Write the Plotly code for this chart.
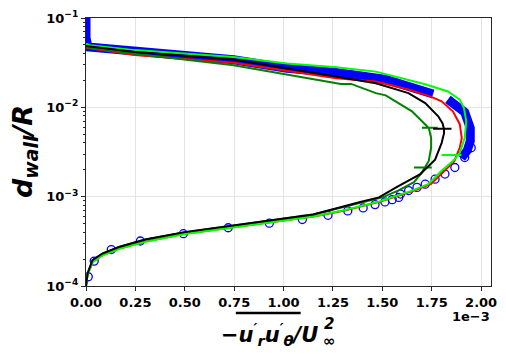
import plotly.graph_objects as go

# x values in units of 1e-3 ; y = d_wall / R
black_x = [0, 0.008, 0.033, 0.083, 0.167, 0.30, 0.50, 0.717, 0.967, 1.15, 1.383, 1.483, 1.57, 1.692, 1.767, 1.80, 1.812,
           1.812, 1.757, 1.85, 1.812, 1.805, 1.783, 1.717, 1.632, 1.467, 1.267, 1.017, 0.747, 0.247, 0.02, 0]
black_y = [1.0e-4, 1.38e-4, 1.95e-4, 2.31e-4, 2.73e-4, 3.31e-4, 4.01e-4, 4.67e-4, 5.51e-4, 6.31e-4, 8.65e-4, 9.82e-4,
           1.27e-3, 1.79e-3, 2.6e-3, 3.98e-3, 5.1e-3, 5.74e-3, 5.74e-3, 5.74e-3, 5.74e-3, 6.6e-3, 7.94e-3, 1.117e-2,
           1.442e-2, 1.862e-2, 2.21e-2, 2.74e-2, 3.44e-2, 4.16e-2, 4.72e-2, 4.86e-2]

red_x = [0, 0.008, 0.035, 0.085, 0.17, 0.30, 0.50, 0.72, 0.97, 1.16, 1.31, 1.49, 1.66, 1.745, 1.815, 1.865, 1.892,
         1.902, 1.892, 1.857, 1.80, 1.742, 1.632, 1.467, 1.267, 1.017, 0.747, 0.247, 0.02, 0]
red_y = [1.0e-4, 1.35e-4, 1.87e-4, 2.22e-4, 2.62e-4, 3.14e-4, 3.85e-4, 4.5e-4, 5.3e-4, 6.05e-4, 7.0e-4, 8.8e-4,
         1.17e-3, 1.38e-3, 1.95e-3, 2.51e-3, 3.53e-3, 4.53e-3, 6.48e-3, 9.03e-3, 1.166e-2, 1.325e-2, 1.585e-2,
         1.945e-2, 2.12e-2, 2.56e-2, 3.16e-2, 3.85e-2, 4.56e-2, 4.64e-2]

lime_x = [0, 0.008, 0.033, 0.083, 0.167, 0.30, 0.50, 0.817, 1.15, 1.30, 1.483, 1.65, 1.732, 1.80, 1.857,
          1.885, 1.80, 1.90, 1.885, 1.892, 1.917, 1.925, 1.913, 1.892, 1.832, 1.717, 1.467, 1.267, 1.017, 0.747,
          0.247, 0.02, 0]
lime_y = [1.0e-4, 1.35e-4, 1.85e-4, 2.21e-4, 2.61e-4, 3.12e-4, 3.83e-4, 4.76e-4, 6.0e-4, 6.99e-4, 8.8e-4, 1.17e-3,
          1.38e-3, 1.95e-3, 2.51e-3, 2.92e-3, 2.92e-3, 2.92e-3, 2.92e-3, 3.11e-3, 4.56e-3, 6.99e-3, 9.82e-3,
          1.219e-2, 1.506e-2, 1.815e-2, 2.51e-2, 2.81e-2, 3.10e-2, 3.66e-2, 4.37e-2, 4.97e-2, 5.14e-2]

dgreen_x = [0, 0.008, 0.033, 0.083, 0.167, 0.30, 0.50, 0.717, 0.967, 1.15, 1.40, 1.50, 1.58, 1.66, 1.70,
            1.715, 1.66, 1.75, 1.715, 1.735, 1.747, 1.747, 1.735, 1.70, 1.78, 1.735, 1.717, 1.65, 1.567, 1.517,
            1.467, 1.367, 1.342, 1.29, 1.017, 0.747, 0.247, 0.02, 0]
dgreen_y = [1.0e-4, 1.38e-4, 1.95e-4, 2.31e-4, 2.73e-4, 3.31e-4, 4.01e-4, 4.67e-4, 5.51e-4, 6.31e-4, 8.65e-4,
            9.82e-4, 1.17e-3, 1.45e-3, 1.86e-3, 2.12e-3, 2.12e-3, 2.12e-3, 2.12e-3, 2.51e-3, 3.53e-3, 4.56e-3,
            5.89e-3, 5.89e-3, 5.89e-3, 5.89e-3, 6.43e-3, 9.03e-3, 1.166e-2, 1.36e-2, 1.442e-2, 1.755e-2, 1.83e-2,
            1.83e-2, 2.31e-2, 2.95e-2, 3.98e-2, 4.6e-2, 4.7e-2]

# blue: sparse/dense open-circle markers (lower part)
blue_pts_x = [0.0115, 0.0415, 0.128, 0.275, 0.493, 0.72, 0.928, 1.095, 1.225, 1.325, 1.403, 1.463, 1.513, 1.55,
              1.583, 1.592, 1.633, 1.675, 1.717, 1.767, 1.817, 1.867, 1.917, 1.95]
blue_pts_y = [1.27e-4, 1.90e-4, 2.56e-4, 3.19e-4, 3.85e-4, 4.49e-4, 5.05e-4, 5.55e-4, 6.19e-4, 6.93e-4, 7.48e-4,
              8.15e-4, 8.73e-4, 9.26e-4, 9.8e-4, 1.07e-3, 1.17e-3, 1.27e-3, 1.38e-3, 1.57e-3, 1.79e-3, 2.12e-3,
              2.74e-3, 3.53e-3]
# blue: dense overlapping markers forming a thick band (upper part)
blue_band_x = [1.90, 1.93, 1.945, 1.945, 1.917, 1.832, None, 1.757, 1.517, 1.267, 1.017, 0.747, 0.247, 0.01, 0.0, 0.0]
blue_band_y = [2.7e-3, 3.3e-3, 4.19e-3, 5.85e-3, 8.8e-3, 1.227e-2, None, 1.41e-2, 2.05e-2, 2.45e-2, 2.74e-2,
               3.41e-2, 4.14e-2, 4.75e-2, 6.0e-2, 1.0e-1]

x_tickvals = [0, 0.25, 0.5, 0.75, 1.0, 1.25, 1.5, 1.75, 2.0]
x_ticktext = ["0.00", "0.25", "0.50", "0.75", "1.00", "1.25", "1.50", "1.75", "2.00"]
y_tickvals = [1e-4, 1e-3, 1e-2, 1e-1]
y_ticktext = ["10<sup>−4</sup>", "10<sup>−3</sup>", "10<sup>−2</sup>", "10<sup>−1</sup>"]
y_minor = [m * 10.0 ** e for e in (-4, -3, -2) for m in range(2, 10)]

fig = go.Figure()
fig.add_trace(go.Scatter(x=blue_band_x, y=blue_band_y, mode="lines", line=dict(color="#0000ff", width=9),
                         connectgaps=False, showlegend=False))
fig.add_trace(go.Scatter(x=blue_pts_x, y=blue_pts_y, mode="markers",
                         marker=dict(symbol="circle-open", size=8, color="#0000ff", line=dict(width=1.3)),
                         showlegend=False))
fig.add_trace(go.Scatter(x=red_x, y=red_y, mode="lines", line=dict(color="#ff0000", width=2), showlegend=False))
fig.add_trace(go.Scatter(x=dgreen_x, y=dgreen_y, mode="lines", line=dict(color="#008000", width=2), showlegend=False))
fig.add_trace(go.Scatter(x=lime_x, y=lime_y, mode="lines", line=dict(color="#00ff00", width=2), showlegend=False))
fig.add_trace(go.Scatter(x=black_x, y=black_y, mode="lines", line=dict(color="#000000", width=2), showlegend=False))

tickfont = dict(family="DejaVu Sans", size=13, color="#000000", weight="bold")
axcommon = dict(showline=True, linecolor="#262626", linewidth=1.3, mirror=True, ticks="outside", ticklen=4,
                tickwidth=1.2, tickcolor="#262626", showgrid=True, gridcolor="#e3e3e3", gridwidth=1,
                zeroline=False, tickfont=tickfont)
fig.update_xaxes(range=[0, 2.05], tickmode="array", tickvals=x_tickvals, ticktext=x_ticktext, **axcommon)
fig.update_yaxes(type="log", range=[-4, -1], tickmode="array", tickvals=y_tickvals, ticktext=y_ticktext,
                 minor=dict(tickmode="array", tickvals=y_minor, ticks="outside", ticklen=2, tickcolor="#262626",
                            showgrid=False), **axcommon)

title_font = dict(size=21, family="DejaVu Sans", color="#000000")
script_font = dict(size=15, family="DejaVu Sans", color="#000000")
fig.update_layout(
    width=506, height=354, margin=dict(l=86, r=9, t=16, b=68),
    paper_bgcolor="white", plot_bgcolor="white",
    font=dict(family="DejaVu Sans", color="#000000"),
    annotations=[
        dict(text="<b><i>d<sub>wall</sub>/R</i></b>", xref="paper", yref="paper", x=-0.153, y=0.5,
             textangle=-90, showarrow=False, font=dict(size=27, family="DejaVu Sans", color="#000000"),
             xanchor="center", yanchor="middle"),
        dict(text="<b><i>−u<sup>′</sup><sub>r</sub>u<sup>′</sup><sub>θ</sub>/U</i></b>", xref="paper", yref="paper",
             x=0.5766, y=-0.178, showarrow=False, font=title_font, xanchor="right", yanchor="middle"),
        dict(text="<b><i>2</i></b>", xref="paper", yref="paper", x=0.583, y=-0.142, showarrow=False,
             font=script_font, xanchor="left", yanchor="middle"),
        dict(text="<b><i>∞</i></b>", xref="paper", yref="paper", x=0.580, y=-0.207, showarrow=False,
             font=script_font, xanchor="left", yanchor="middle"),
        dict(text="<b>1e−3</b>", xref="paper", yref="paper", x=0.95, y=-0.112, showarrow=False,
             font=dict(size=13, family="DejaVu Sans", color="#000000"), xanchor="center", yanchor="middle"),
    ],
    shapes=[dict(type="line", xref="paper", yref="paper", x0=0.37, x1=0.53, y0=-0.101, y1=-0.101,
                 line=dict(color="black", width=2.5))],
)

fig.write_html("out.html")
